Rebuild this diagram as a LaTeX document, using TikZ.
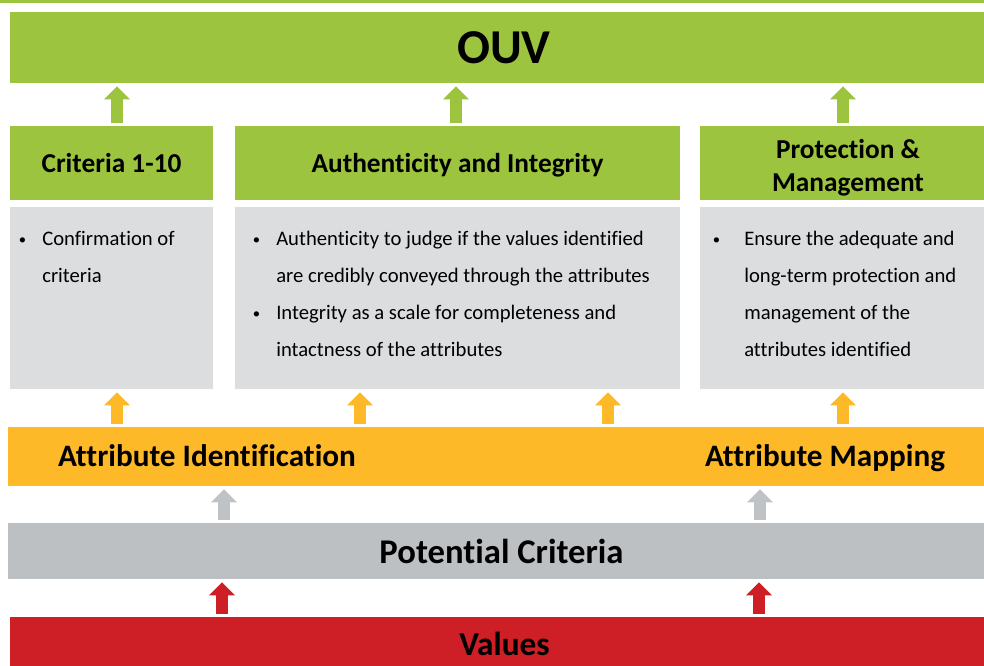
\documentclass[tikz,border=0pt]{standalone}
\usepackage{fontspec}
\setmainfont{Carlito}[Ligatures=CommonOff]
\usetikzlibrary{arrows.meta}
\definecolor{ouvgreen}{RGB}{157,196,62}
\definecolor{attrorange}{RGB}{253,185,39}
\definecolor{potgrey}{RGB}{189,192,195}
\definecolor{bodygrey}{RGB}{220,221,223}
\definecolor{valred}{RGB}{205,31,37}
\definecolor{arrgrey}{RGB}{192,195,198}
\newcommand{\blt}[1]{\llap{\raisebox{0.15ex}{\fontsize{11}{11}\selectfont\textbullet}\hspace{#1}}}
\tikzset{
  boxsize/.style 2 args={minimum width=#1*0.75pt,minimum height=#2*0.75pt},
  band/.style={inner sep=0pt,outer sep=0pt,font=\bfseries},
  upar/.style={#1,line width=9pt,-{Triangle[width=19.5pt,length=9.75pt,line width=0pt]},shorten <=2.6pt,shorten >=2.6pt},
  bodytext/.style={anchor=north west,inner sep=0pt,align=left,font=\fontsize{15.5}{27.75}\selectfont}
}
\begin{document}
\begin{tikzpicture}[x=0.75pt,y=-0.75pt]
\useasboundingbox (0,0) rectangle (984,666);
\fill[ouvgreen] (0,0) rectangle (984,3);
% top row
\node[band,fill=ouvgreen,boxsize={988}{71},font=\fontsize{36.5}{40}\selectfont\bfseries] (ouv) at (504,47.5) {OUV};
\node[band,fill=ouvgreen,boxsize={203}{74},font=\fontsize{20.5}{24}\selectfont\bfseries] (crit) at (111.5,163) {Criteria 1-10};
\node[band,fill=ouvgreen,boxsize={445}{74},text depth=0pt,font=\fontsize{20.5}{24}\selectfont\bfseries] (auth) at (457.5,163) {Authenticity and Integrity};
\node[band,fill=ouvgreen,boxsize={296}{74}] (prot) at (848,163) {};
\node[band,align=center,font=\fontsize{20.5}{24.75}\selectfont\bfseries] (prottitle) at (848,168) {Protection \&\\Management};
% grey bodies
\node[band,fill=bodygrey,boxsize={203}{182}] (critbody) at (111.5,298) {};
\node[band,fill=bodygrey,boxsize={445}{182}] (authbody) at (457.5,298) {};
\node[band,fill=bodygrey,boxsize={296}{182}] (protbody) at (848,298) {};
\node[bodytext] (crittext) at (42,231) {\blt{12pt}Confirmation of\\criteria};
\node[bodytext] (authtext) at (276,231) {\blt{12pt}Authenticity to judge if the values identified\\are credibly conveyed through the attributes\\\blt{12pt}Integrity as a scale for completeness and\\intactness of the attributes};
\node[bodytext] (prottext) at (744,231) {\blt{18pt}Ensure the adequate and\\long-term protection and\\management of the\\attributes identified};
% bands
\node[band,fill=attrorange,boxsize={982}{59}] (attr) at (499,456.5) {};
\node[band,anchor=base west,font=\fontsize{23.4}{28}\selectfont\bfseries] (attrid) at (58,466) {Attribute Identification};
\node[band,anchor=base west,font=\fontsize{23.4}{28}\selectfont\bfseries] (attrmap) at (705,466) {Attribute Mapping};
\node[band,fill=potgrey,boxsize={987}{56},font=\fontsize{26}{30}\selectfont\bfseries] (pot) at (501.5,551) {Potential Criteria};
\node[band,fill=valred,boxsize={989}{53},font=\fontsize{25}{30}\selectfont\bfseries] (values) at (504.5,643.5) {Values};
% arrows
\foreach \xa in {117,456,843} \draw[upar=ouvgreen] (\xa,0 |- crit.north) -- (\xa,0 |- ouv.south);
\foreach \xa in {117,360,608,843} \draw[upar=attrorange] (\xa,0 |- attr.north) -- (\xa,0 |- critbody.south);
\foreach \xa in {224,760} \draw[upar=arrgrey] (\xa,0 |- pot.north) -- (\xa,0 |- attr.south);
\foreach \xa in {222,759} \draw[upar=valred] (\xa,0 |- values.north) -- (\xa,0 |- pot.south);
\end{tikzpicture}
\end{document}
